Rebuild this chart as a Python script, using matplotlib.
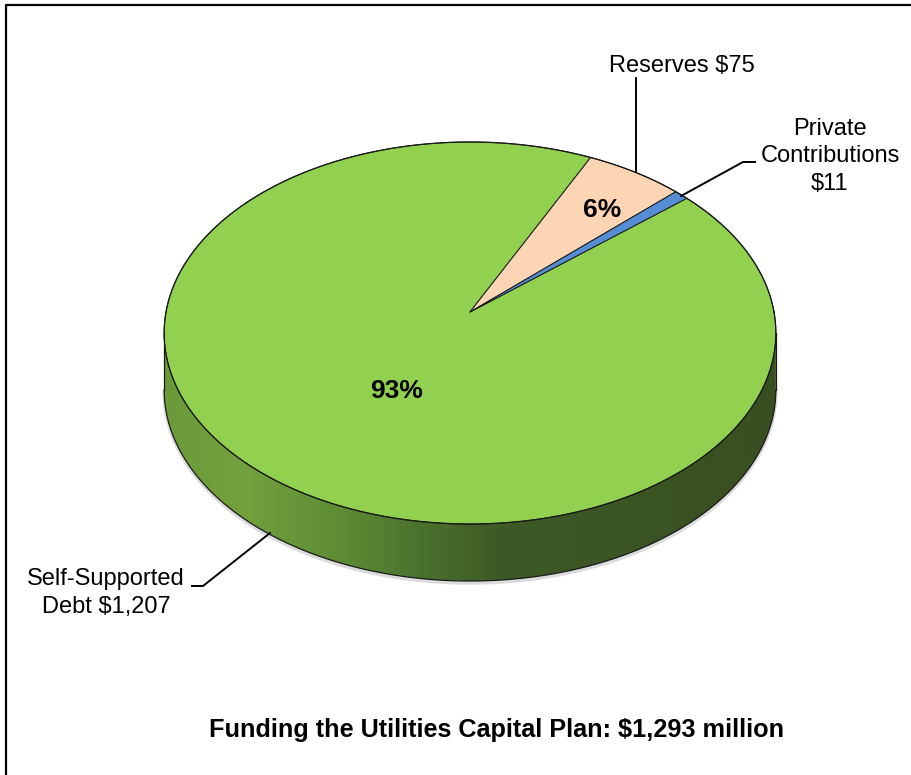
import numpy as np
import matplotlib.pyplot as plt
from matplotlib.patches import Polygon
from matplotlib.colors import LinearSegmentedColormap

plt.rcParams['font.family'] = ['Liberation Sans', 'DejaVu Sans']

# Funding sources ($ millions), drawn clockwise
labels = ['Self-Supported\nDebt $1,207', 'Reserves $75', 'Private\nContributions\n$11']
values = [1207, 75, 11]
colors = ['#92d050', '#fcd5b5', '#558ed5']
start_angle = 40.2   # where the first slice begins (degrees, counter-clockwise from 3 o'clock)

total = sum(values)
title = f'Funding the Utilities Capital Plan: ${total:,} million'

# 3D pie geometry in pixel space
CX, CY = 470, 312      # projected pie centre
A, B = 304, 188.7      # horizontal / vertical radii
K = 0.110              # perspective strength
DEPTH = 57             # thickness of the pie


def proj(r, t_deg, drop=0.0):
    t = np.radians(t_deg)
    X, Y = r * np.cos(t), r * np.sin(t)
    w = 1 + K * Y
    return CX + A * X / w, CY - B * Y / w + drop


fig = plt.figure(figsize=(9.11, 7.75), dpi=100)
ax = fig.add_axes([0, 0, 1, 1])
ax.set_xlim(0, 911)
ax.set_ylim(775, 0)
ax.axis('off')

# outer frame (left and top edges visible)
ax.plot([6, 6, 911], [775, 5, 5], color='black', lw=1.6, solid_capstyle='butt', clip_on=False)

# --- side wall of the pie ---
t_edge = np.degrees(np.arcsin(-K))          # leftmost/rightmost points of the rim
t_front = np.linspace(180 - t_edge, 360 + t_edge, 300)
top_x, top_y = proj(1, t_front)
bot_x, bot_y = proj(1, t_front, DEPTH)
side_pts = np.column_stack([np.r_[top_x, bot_x[::-1]], np.r_[top_y, bot_y[::-1]]])
side = Polygon(side_pts, closed=True, facecolor='none', edgecolor='none')
ax.add_patch(side)

x0, x1 = top_x.min(), top_x.max()
stops = [(0.00, '#6c9a3a'), (0.13, '#72a13d'), (0.28, '#5f8d35'),
         (0.42, '#4b722d'), (0.55, '#3d5a26'), (1.00, '#394f21')]
side_cmap = LinearSegmentedColormap.from_list('side', stops)
grad = np.linspace(0, 1, 512).reshape(1, -1)
im = ax.imshow(grad, cmap=side_cmap, aspect='auto', interpolation='bilinear',
               extent=(x0, x1, bot_y.max() + 2, top_y.min() - 2), zorder=1)
im.set_clip_path(side)

# soft shadow under the rim, then the rim outline
ax.plot(bot_x, bot_y + 2, color='#999999', lw=2.5, alpha=0.35, zorder=0.9)
ax.plot(bot_x, bot_y, color='#1a1a1a', lw=0.9, zorder=2)
for i in (0, -1):
    ax.plot([top_x[i], bot_x[i]], [top_y[i], bot_y[i]], color='#1a1a1a', lw=0.9, zorder=2)

# --- top face: wedges ---
angle = start_angle
mids = []
for val, col in zip(values, colors):
    span = 360.0 * val / total
    ts = np.linspace(angle, angle - span, max(int(span * 2), 4))
    ex, ey = proj(1, ts)
    pts = np.column_stack([np.r_[CX, ex], np.r_[CY, ey]])
    ax.add_patch(Polygon(pts, closed=True, facecolor=col, edgecolor='#1a1a1a',
                         lw=0.7, joinstyle='round', zorder=3))
    mids.append(angle - span / 2)
    angle -= span

# rim of the top face
tt = np.linspace(0, 360, 720)
rx, ry = proj(1, tt)
ax.plot(rx, ry, color='#1a1a1a', lw=0.9, zorder=4)

# percentage labels on the larger slices
pct_pos = [(397, 391), (602, 210), None]
for val, pos in zip(values, pct_pos):
    if pos is None or val / total < 0.05:
        continue
    ax.text(pos[0], pos[1], f'{round(100 * val / total)}%', ha='center', va='center',
            fontsize=19, fontweight='bold', color='black', zorder=5)

# category labels with leader lines
label_pos = [(106, 585), (682, 72), (830, 135)]
line_step = 27.5
for text, (lx, ly) in zip(labels, label_pos):
    for i, line in enumerate(text.split('\n')):
        ax.text(lx, ly + i * line_step, line, ha='center', va='baseline',
                fontsize=17, color='black', zorder=5)

leaders = [
    ([192, 203, 270], [586, 586, 533]),
    ([636, 636], [78, 172]),
    ([681, 743, 755], [196, 162, 162]),
]
for lx, ly in leaders:
    ax.plot(lx, ly, color='black', lw=1.4, zorder=5)

ax.text(497, 737, title, ha='center', va='baseline', fontsize=18.2,
        fontweight='bold', color='black')

fig.savefig('out.png', dpi=100)
